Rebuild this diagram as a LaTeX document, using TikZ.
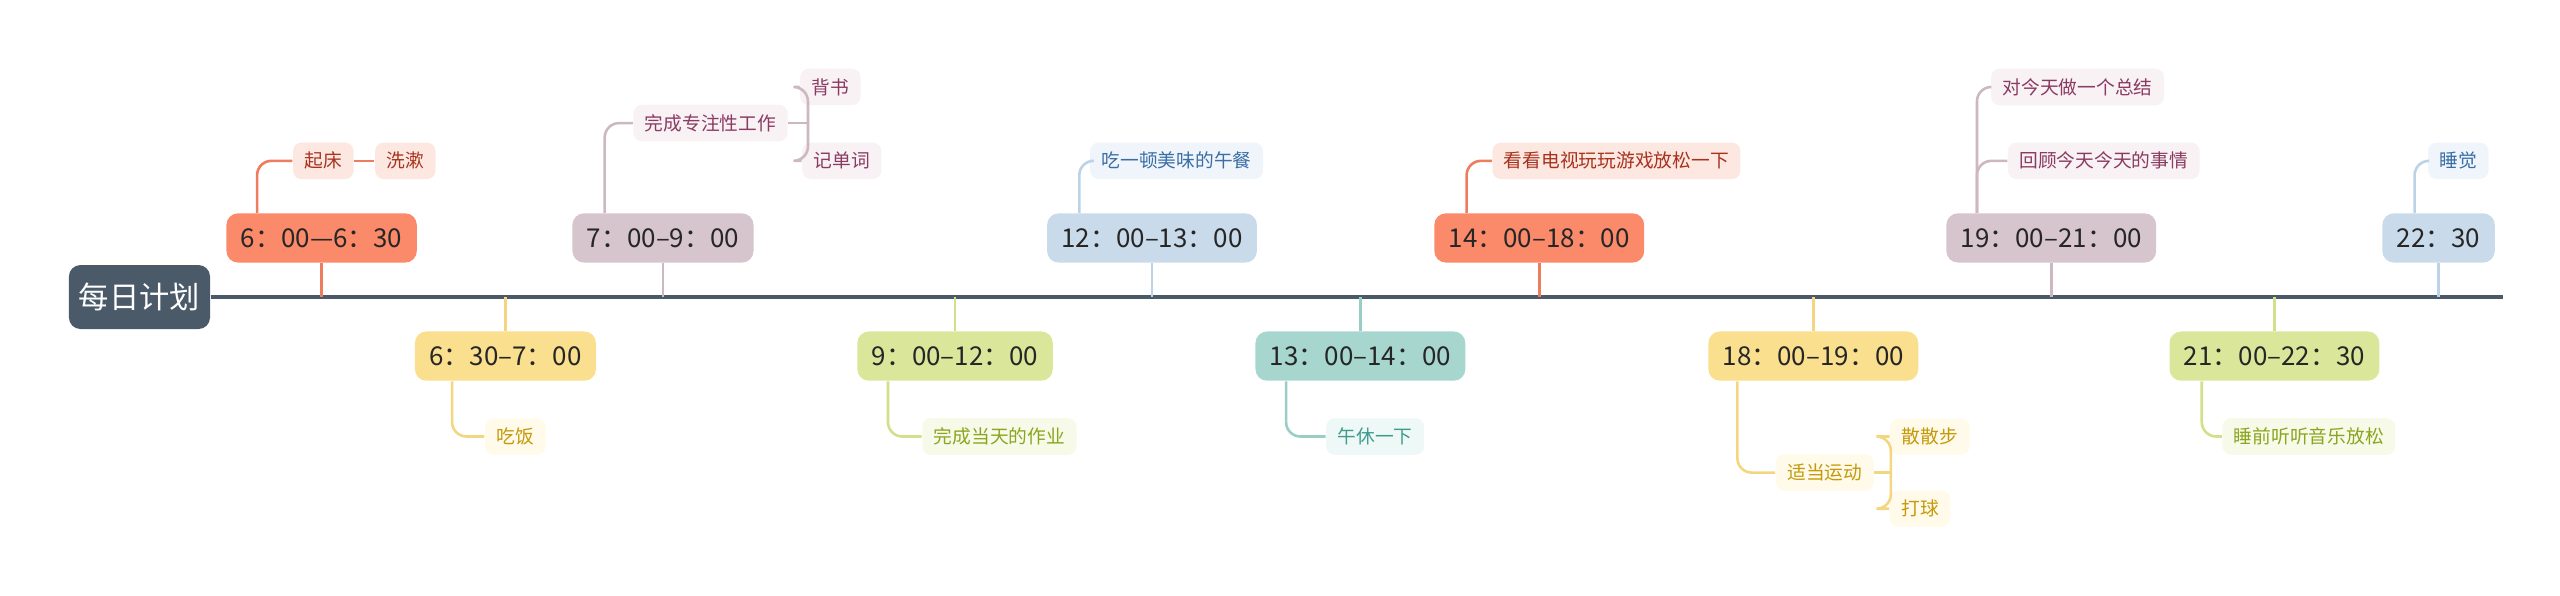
\documentclass[tikz,border=0pt]{standalone}
\usepackage{fontspec}
\setmainfont{Noto Sans CJK SC}
\usetikzlibrary{positioning}
\definecolor{rootc}{HTML}{4B5A69}
\definecolor{salmon}{HTML}{FA8A6A}\definecolor{salmonl}{HTML}{EE7C5E}\definecolor{salmonf}{HTML}{FDE8E1}\definecolor{salmont}{HTML}{A8321E}
\definecolor{mauve}{HTML}{D7C5CD}\definecolor{mauvel}{HTML}{CDB8C1}\definecolor{mauvef}{HTML}{F8F2F4}\definecolor{mauvet}{HTML}{8B3A62}
\definecolor{sky}{HTML}{C9DBEA}\definecolor{skyl}{HTML}{BCD2E6}\definecolor{skyf}{HTML}{EFF5FA}\definecolor{skyt}{HTML}{3A6EA5}
\definecolor{sand}{HTML}{F9DF8E}\definecolor{sandl}{HTML}{F5D680}\definecolor{sandf}{HTML}{FFFAE9}\definecolor{sandt}{HTML}{C49A0A}
\definecolor{lime}{HTML}{DAE79B}\definecolor{limel}{HTML}{D2E08C}\definecolor{limef}{HTML}{F7FAE9}\definecolor{limet}{HTML}{8AA61E}
\definecolor{teal}{HTML}{A7D6CF}\definecolor{teall}{HTML}{98CEC6}\definecolor{tealf}{HTML}{EEF8F6}\definecolor{tealt}{HTML}{3F9C8D}

\begin{document}
\begin{tikzpicture}[x=0.02cm, y=-0.02cm,
    time/.style = {rounded corners=4pt, minimum height=30*0.02cm, inner xsep=5pt, font=\fontsize{9}{10}\selectfont, text=black!85},
    leaf/.style = {rounded corners=3pt, minimum height=20*0.02cm, inner xsep=4pt, font=\fontsize{6.5}{7}\selectfont},
    branch/.style = {line width=0.9pt, rounded corners=5pt}
  ]
  \useasboundingbox (0,0) rectangle (1560,362.6);

  % root and axis
  \node (root) [fill=rootc, text=white, rounded corners=4pt, minimum width=86*0.02cm, minimum height=39*0.02cm,
    font=\fontsize{10.5}{12}\selectfont] at (85,181) {每日计划};
  \coordinate (end) at (1525,181);
  \draw[rootc, line width=1.7pt] (root.east) -- (end);

  % time slots above
  \node (t1) [time, fill=salmon] at (196,145) {6：00---6：30};
  \node (t3) [time, fill=mauve]  at (404,145) {7：00--9：00};
  \node (t5) [time, fill=sky]    at (702,145) {12：00--13：00};
  \node (t7) [time, fill=salmon] at (938,145) {14：00--18：00};
  \node (t9) [time, fill=mauve]  at (1250,145) {19：00--21：00};
  \node (t11) [time, fill=sky]   at (1486,145) {22：30};
  % time slots below
  \node (t2) [time, fill=sand]  at (308,217) {6：30--7：00};
  \node (t4) [time, fill=lime]  at (582,217) {9：00--12：00};
  \node (t6) [time, fill=teal]  at (829,217) {13：00--14：00};
  \node (t8) [time, fill=sand]  at (1105,217) {18：00--19：00};
  \node (t10) [time, fill=lime] at (1386,217) {21：00--22：30};

  % stems to axis
  \foreach \t/\c in {t1/salmonl, t3/mauvel, t5/skyl, t7/salmonl, t9/mauvel, t11/skyl}
    \draw[\c, line width=0.9pt] (\t.south) -- (\t.south |- root.east);
  \foreach \t/\c in {t2/sandl, t4/limel, t6/teall, t8/sandl, t10/limel}
    \draw[\c, line width=0.9pt] (\t.north) -- (\t.north |- root.east);

  % leaves
  \node (qc) [leaf, fill=salmonf, text=salmont] at (197,98) {起床};
  \node (xs) [leaf, fill=salmonf, text=salmont] at (247,98) {洗漱};
  \node (zz) [leaf, fill=mauvef, text=mauvet] at (433,75) {完成专注性工作};
  \node (bs) [leaf, fill=mauvef, text=mauvet] at (506,53) {背书};
  \node (jd) [leaf, fill=mauvef, text=mauvet] at (513,98) {记单词};
  \node (wc) [leaf, fill=skyf, text=skyt] at (717,98) {吃一顿美味的午餐};
  \node (ds) [leaf, fill=salmonf, text=salmont] at (985,98) {看看电视玩玩游戏放松一下};
  \node (zj) [leaf, fill=mauvef, text=mauvet] at (1266,53) {对今天做一个总结};
  \node (hg) [leaf, fill=mauvef, text=mauvet] at (1282,98) {回顾今天今天的事情};
  \node (sj) [leaf, fill=skyf, text=skyt] at (1498,98) {睡觉};
  \node (cf) [leaf, fill=sandf, text=sandt] at (314,266) {吃饭};
  \node (zy) [leaf, fill=limef, text=limet] at (609,266) {完成当天的作业};
  \node (wx) [leaf, fill=tealf, text=tealt] at (838,266) {午休一下};
  \node (yd) [leaf, fill=sandf, text=sandt] at (1112,288) {适当运动};
  \node (sb) [leaf, fill=sandf, text=sandt] at (1176,266) {散散步};
  \node (dq) [leaf, fill=sandf, text=sandt] at (1170,310) {打球};
  \node (yy) [leaf, fill=limef, text=limet] at (1407,266) {睡前听听音乐放松};

  % branches
  \draw[branch, salmonl] ([xshift=19*0.02cm]t1.north west) |- (qc.west);
  \draw[branch, salmonl] (qc.east) -- (xs.west);
  \draw[branch, mauvel] ([xshift=20*0.02cm]t3.north west) |- (zz.west);
  \draw[branch, mauvel] (zz.east) -- ++(12,0) coordinate (zzb);
  \draw[branch, mauvel] (bs.west) -| (zzb) |- (jd.west);
  \draw[branch, skyl] ([xshift=20*0.02cm]t5.north west) |- (wc.west);
  \draw[branch, salmonl] ([xshift=20*0.02cm]t7.north west) |- (ds.west);
  \draw[branch, mauvel] ([xshift=19*0.02cm]t9.north west) |- (zj.west);
  \draw[branch, mauvel] ([xshift=19*0.02cm]t9.north west) |- (hg.west);
  \draw[branch, skyl] ([xshift=20*0.02cm]t11.north west) |- (sj.west);
  \draw[branch, sandl] ([xshift=23*0.02cm]t2.south west) |- (cf.west);
  \draw[branch, limel] ([xshift=19*0.02cm]t4.south west) |- (zy.west);
  \draw[branch, teall] ([xshift=19*0.02cm]t6.south west) |- (wx.west);
  \draw[branch, sandl] ([xshift=18*0.02cm]t8.south west) |- (yd.west);
  \draw[branch, sandl] (yd.east) -- ++(10,0) coordinate (ydb);
  \draw[branch, sandl] (sb.west) -| (ydb) |- (dq.west);
  \draw[branch, limel] ([xshift=20*0.02cm]t10.south west) |- (yy.west);
\end{tikzpicture}
\end{document}
